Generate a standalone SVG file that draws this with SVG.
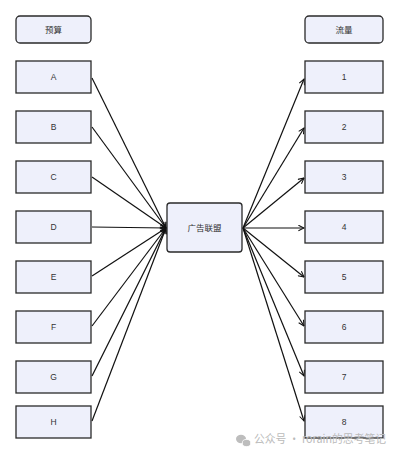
<svg xmlns="http://www.w3.org/2000/svg" width="400" height="455" viewBox="0 0 400 455">
<defs>
<style>
.box{fill:#eef0fb;stroke:#2a2a2a;stroke-width:1.3}
.t{font-family:"Liberation Sans","Noto Sans CJK SC",sans-serif;font-size:8.5px;fill:#333;text-anchor:middle;dominant-baseline:central}
.c line{stroke:#111;stroke-width:1.2;marker-end:url(#ah)}
.wm{font-family:"Noto Sans CJK SC","Liberation Sans",sans-serif;font-size:11.5px;fill:#bbbbbb}
</style>
<marker id="ah" viewBox="0 0 10 10" refX="9" refY="5" markerWidth="7" markerHeight="7" markerUnits="userSpaceOnUse" orient="auto">
<path d="M1,1 L9,5 L1,9" fill="none" stroke="#111" stroke-width="1.5"/>
</marker>
</defs>
<rect width="400" height="455" fill="#fff"/>
<g class="c">
<line x1="92" y1="78" x2="166" y2="228"/>
<line x1="92" y1="127" x2="166" y2="228"/>
<line x1="92" y1="177" x2="166" y2="228"/>
<line x1="92" y1="227" x2="166" y2="228"/>
<line x1="92" y1="276" x2="166" y2="228"/>
<line x1="92" y1="326" x2="166" y2="228"/>
<line x1="92" y1="376" x2="166" y2="228"/>
<line x1="92" y1="421" x2="166" y2="228"/>
<line x1="243" y1="228" x2="304" y2="79"/>
<line x1="243" y1="228" x2="304" y2="128"/>
<line x1="243" y1="228" x2="304" y2="178"/>
<line x1="243" y1="228" x2="304" y2="228"/>
<line x1="243" y1="228" x2="304" y2="277"/>
<line x1="243" y1="228" x2="304" y2="326"/>
<line x1="243" y1="228" x2="304" y2="376"/>
<line x1="243" y1="228" x2="304" y2="421"/>
</g>
<g id="n-budget"><rect class="box" x="16" y="16" width="75" height="27" rx="4"/><text class="t" x="53.5" y="29.5">预算</text></g>
<g id="n-A"><rect class="box" x="16" y="61" width="75" height="32"/><text class="t" x="53.5" y="77">A</text></g>
<g id="n-B"><rect class="box" x="16" y="111" width="75" height="32"/><text class="t" x="53.5" y="127">B</text></g>
<g id="n-C"><rect class="box" x="16" y="161" width="75" height="32"/><text class="t" x="53.5" y="177">C</text></g>
<g id="n-D"><rect class="box" x="16" y="211" width="75" height="32"/><text class="t" x="53.5" y="227">D</text></g>
<g id="n-E"><rect class="box" x="16" y="261" width="75" height="32"/><text class="t" x="53.5" y="277">E</text></g>
<g id="n-F"><rect class="box" x="16" y="311" width="75" height="32"/><text class="t" x="53.5" y="327">F</text></g>
<g id="n-G"><rect class="box" x="16" y="361" width="75" height="32"/><text class="t" x="53.5" y="377">G</text></g>
<g id="n-H"><rect class="box" x="16" y="406" width="75" height="32"/><text class="t" x="53.5" y="422">H</text></g>
<g id="n-center"><rect class="box" x="167" y="203" width="75" height="49" rx="3"/><text class="t" x="204.5" y="227.5">广告联盟</text></g>
<g id="n-traffic"><rect class="box" x="305" y="16" width="78" height="27" rx="4"/><text class="t" x="344" y="29.5">流量</text></g>
<g id="n-1"><rect class="box" x="305" y="61" width="78" height="32"/><text class="t" x="344" y="77">1</text></g>
<g id="n-2"><rect class="box" x="305" y="111" width="78" height="32"/><text class="t" x="344" y="127">2</text></g>
<g id="n-3"><rect class="box" x="305" y="161" width="78" height="32"/><text class="t" x="344" y="177">3</text></g>
<g id="n-4"><rect class="box" x="305" y="211" width="78" height="32"/><text class="t" x="344" y="227">4</text></g>
<g id="n-5"><rect class="box" x="305" y="261" width="78" height="32"/><text class="t" x="344" y="277">5</text></g>
<g id="n-6"><rect class="box" x="305" y="311" width="78" height="32"/><text class="t" x="344" y="327">6</text></g>
<g id="n-7"><rect class="box" x="305" y="361" width="78" height="32"/><text class="t" x="344" y="377">7</text></g>
<g id="n-8"><rect class="box" x="305" y="406" width="78" height="32"/><text class="t" x="344" y="422">8</text></g>
<g id="watermark">
<ellipse cx="241" cy="439" rx="5" ry="4.2" fill="#bdbdbd"/>
<ellipse cx="246.5" cy="443" rx="4.2" ry="3.6" fill="#bdbdbd" stroke="#fff" stroke-width="0.8"/>
<text class="wm" x="254" y="443" textLength="132" lengthAdjust="spacingAndGlyphs">公众号 · rorain的思考笔记</text>
</g>
</svg>
